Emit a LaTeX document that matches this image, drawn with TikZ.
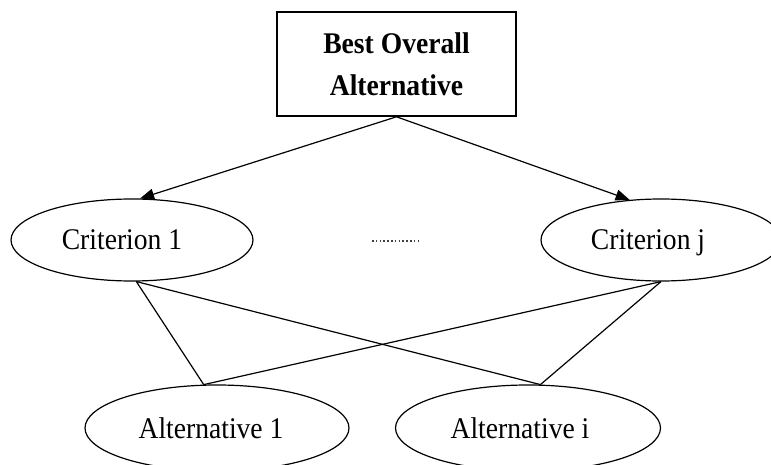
\documentclass[tikz,border=0pt]{standalone}
\usepackage{fontspec}
\setmainfont{Liberation Serif}[FakeStretch=0.92]
\usetikzlibrary{arrows.meta,shapes.geometric}
\begin{document}
\begin{tikzpicture}[x=1pt,y=-1pt,
  goalbox/.style={draw, rectangle, line width=1.6pt, minimum width=239pt,
    minimum height=104pt, inner sep=0pt, align=center,
    font=\fontsize{30}{42}\selectfont\bfseries},
  oval/.style={draw, ellipse, line width=1.2pt, inner sep=0pt},
  ovaltext/.style={inner sep=0pt, text height=20pt, text depth=0pt,
    font=\fontsize{30}{36}\selectfont},
  link/.style={line width=1.2pt},
  arrowlink/.style={link, -{Triangle[length=14pt,width=11pt]}},
  dotline/.style={line width=1.2pt, black!75, dash pattern=on 1.5pt off 2.3pt},
]
\clip (0,0) rectangle (771,465);

% goal at the top
\node[goalbox] (goal) at (396.5,64) {Best Overall\\Alternative};

% criteria
\node[oval, minimum width=242pt, minimum height=82pt,
  label={[ovaltext, xshift=-10pt]center:Criterion 1}] (c1) at (132,240) {};
\node[oval, minimum width=240pt, minimum height=82pt,
  label={[ovaltext, xshift=-13pt]center:Criterion j}] (cj) at (661,240) {};

% alternatives
\node[oval, minimum width=264pt, minimum height=86pt,
  label={[ovaltext, xshift=-6pt]center:Alternative 1}] (a1) at (217,428) {};
\node[oval, minimum width=265pt, minimum height=86pt,
  label={[ovaltext, xshift=-8pt]center:Alternative i}] (ai) at (528,428) {};

% ellipsis between the criteria
\coordinate (dl) at (372,241);
\coordinate (dr) at (418,241);
\draw[dotline] (dl) -- (dr);

% goal to criteria
\draw[arrowlink] (goal.south) -- (c1.79);
\draw[arrowlink] (goal.south) -- (cj.128);

% criteria to alternatives
\draw[link] (c1.-84) -- (a1.107);
\draw[link] (c1.-84) -- (ai.74);
\draw[link] (cj.south) -- (a1.107);
\draw[link] (cj.south) -- (ai.74);
\end{tikzpicture}
\end{document}
